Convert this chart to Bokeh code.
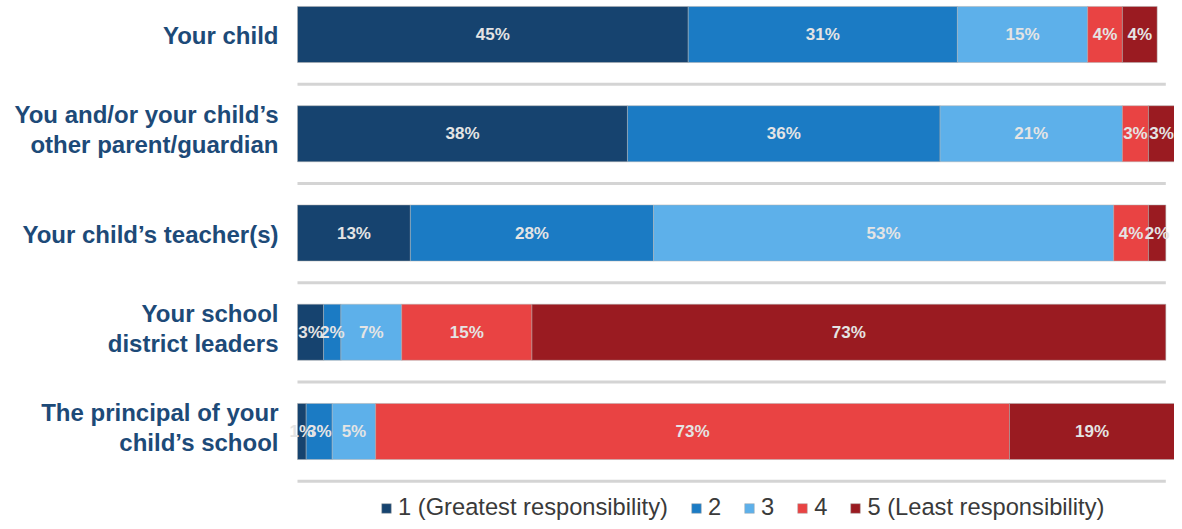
from bokeh.plotting import figure
from bokeh.models import ColumnDataSource, Range1d
from bokeh.core.properties import value
from bokeh.embed import file_html
from bokeh.resources import INLINE

# ---- data ----
categories = [
    "Your child",
    "You and/or your child\u2019s\nother parent/guardian",
    "Your child\u2019s teacher(s)",
    "Your school\ndistrict leaders",
    "The principal of your\nchild\u2019s school",
]
series_names = ["1 (Greatest responsibility)", "2", "3", "4", "5 (Least responsibility)"]
s1 = [45, 38, 13, 3, 1]
s2 = [31, 36, 28, 2, 3]
s3 = [15, 21, 53, 7, 5]
s4 = [4, 3, 4, 15, 73]
s5 = [4, 3, 2, 73, 19]
colors = ["#16436f", "#1b7bc4", "#5db0ea", "#e94343", "#9a1b21"]

series = [s1, s2, s3, s4, s5]
keys = ["s1", "s2", "s3", "s4", "s5"]
ypos = list(range(len(categories)))

data = {"y": ypos}
for k, s in zip(keys, series):
    data[k] = s
src = ColumnDataSource(data)

W, H = 1174, 521
x0_px = 297.0
px_per_pct = (W - x0_px) / 101.0
row_px = 99.25
top_px = 34.0

p = figure(width=W, height=H, output_backend="svg", toolbar_location=None,
           x_range=Range1d(-x0_px / px_per_pct, (W - x0_px) / px_per_pct),
           y_range=Range1d((H - top_px) / row_px, -top_px / row_px),
           x_axis_type=None, y_axis_type=None, min_border=0)
p.outline_line_color = None
p.xgrid.visible = False
p.ygrid.visible = False

# separators between rows
p.segment(x0=[0] * len(ypos), x1=[100] * len(ypos),
          y0=[y + 0.5 for y in ypos], y1=[y + 0.5 for y in ypos],
          line_color="#d4d4d4", line_width=3)

p.hbar_stack(keys, y="y", height=0.565, color=colors, source=src,
             line_color="#b0b0b0", line_width=1, line_alpha=0.5,
             legend_label=series_names)

# value labels
lx, ly, lt = [], [], []
for i in ypos:
    cum = 0
    for s in series:
        v = s[i]
        lx.append(cum + v / 2)
        ly.append(i)
        lt.append(f"{v}%")
        cum += v
p.text(x=lx, y=ly, text=lt, text_align="center", text_baseline="middle",
       text_font=value("Liberation Sans"), text_font_style="bold",
       text_font_size="17px", text_color="#e4e4e4")

# category labels (two-line labels sit slightly above the bar centre)
cat_src = ColumnDataSource(dict(
    x=[0] * len(ypos), y=ypos, text=categories,
    dy=[-4 if "\n" in c else 1 for c in categories]))
p.text(x="x", y="y", text="text", y_offset="dy", x_offset=-19, source=cat_src,
       text_align="right", text_baseline="middle",
       text_font=value("Liberation Sans"), text_font_style="bold",
       text_font_size="24px", text_color="#1d4a78", text_line_height=1.1)

leg = p.legend[0]
leg.orientation = "horizontal"
leg.location = (380, 0)
leg.glyph_width = 12
leg.glyph_height = 12
leg.label_standoff = 6
leg.label_width = 0
leg.spacing = 22
leg.padding = 0
leg.margin = 0
leg.border_line_color = None
leg.background_fill_alpha = 0
leg.label_text_font = "Liberation Sans"
leg.label_text_font_size = "23.7px"
leg.label_text_color = "#3a3a3a"

open("out.html", "w").write(file_html(p, INLINE))
